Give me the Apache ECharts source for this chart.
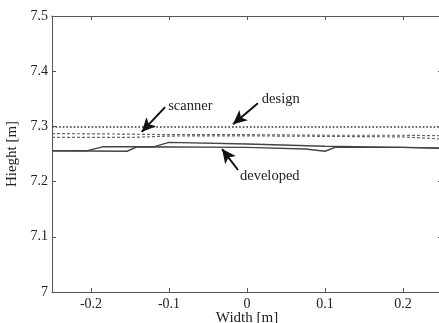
<!DOCTYPE html>
<html><head><meta charset="utf-8">
<script src="https://cdn.jsdelivr.net/npm/echarts@6/dist/echarts.min.js"></script>
<style>html,body{margin:0;padding:0;background:#fff}#c{width:439px;height:323px}</style>
</head><body><div id="c"></div>
<script>
var xTicks = [-0.2, -0.1, 0, 0.1, 0.2];
var yTicks = [7, 7.1, 7.2, 7.3, 7.4, 7.5];
var design = [[-0.25, 7.299], [0.25, 7.299]];
var scanner1 = [[-0.25, 7.287], [-0.15, 7.286], [-0.1, 7.285], [0, 7.285], [0.1, 7.284], [0.2, 7.284], [0.25, 7.283]];
var scanner2 = [[-0.25, 7.280], [-0.15, 7.280], [-0.1, 7.2825], [-0.02, 7.283], [0.1, 7.282], [0.2, 7.281], [0.25, 7.277]];
var developedA = [[-0.25, 7.256], [-0.205, 7.256], [-0.185, 7.263], [-0.12, 7.263], [-0.1, 7.271], [0, 7.268], [0.1, 7.264], [0.2, 7.262], [0.25, 7.260]];
var developedB = [[-0.25, 7.256], [-0.154, 7.255], [-0.141, 7.263], [0, 7.262], [0.075, 7.259], [0.1, 7.255], [0.113, 7.262], [0.2, 7.262], [0.25, 7.261]];
var notes = [
  {text: 'scanner', from: [-0.105, 7.335], to: [-0.135, 7.290], label: [-0.101, 7.336]},
  {text: 'design', from: [0.014, 7.342], to: [-0.018, 7.304], label: [0.019, 7.349]},
  {text: 'developed', from: [-0.0115, 7.221], to: [-0.032, 7.259], label: [-0.009, 7.209]}
];

var chart = echarts.init(document.getElementById('c'));
var font = 'Liberation Serif';
var axisCol = '#555';
var txtCol = '#222';
function lineSeries(data, type, w, col) {
  return {type: 'line', data: data, symbol: 'none', silent: true, animation: false,
    lineStyle: {color: col, width: w, type: type}};
}
var series = [
  lineSeries(design, [1.6, 2], 1.6, '#333'),
  lineSeries(scanner1, [3, 2], 1.2, '#666'),
  lineSeries(scanner2, [3, 2], 1.2, '#666'),
  lineSeries(developedA, 'solid', 1.4, '#444'),
  lineSeries(developedB, 'solid', 1.4, '#444')
];
series.push({
  type: 'line', data: [], symbol: 'none', animation: false,
  markLine: {
    silent: true, animation: false,
    symbol: ['none', 'arrow'], symbolSize: [10, 14],
    label: {show: false},
    lineStyle: {color: '#111', width: 2, type: 'solid'},
    data: notes.map(function (n) { return [{coord: n.from}, {coord: n.to}]; })
  }
});
var axCommon = {
  axisLine: {show: true, onZero: false, lineStyle: {color: axisCol, width: 1}},
  axisTick: {show: true, inside: true, length: 4, lineStyle: {color: axisCol}},
  splitLine: {show: false}
};
chart.setOption({
  backgroundColor: '#fff',
  animation: false,
  grid: {left: 52, top: 16, right: -3, bottom: 31, containLabel: false, outerBoundsMode: 'none'},
  xAxis: [
    Object.assign({type: 'value', min: -0.25, max: 0.25, position: 'bottom',
      name: 'Width [m]', nameLocation: 'middle', nameGap: 19, nameMoveOverlap: false,
      nameTextStyle: {fontFamily: font, fontSize: 15, color: txtCol},
      axisLabel: {customValues: xTicks, fontFamily: font, fontSize: 14, color: txtCol, margin: 5,
        formatter: function (v) { return String(v); }}},
      axCommon, {axisTick: {show: true, inside: true, length: 4, customValues: xTicks, lineStyle: {color: axisCol}}}),
    Object.assign({type: 'value', min: -0.25, max: 0.25, position: 'top',
      axisLabel: {show: false}}, axCommon,
      {axisTick: {show: true, inside: true, length: 4, customValues: xTicks, lineStyle: {color: axisCol}}})
  ],
  yAxis: [
    Object.assign({type: 'value', min: 7, max: 7.5, interval: 0.1, position: 'left',
      name: 'Hieght [m]', nameLocation: 'middle', nameGap: 32, nameMoveOverlap: false,
      nameTextStyle: {fontFamily: font, fontSize: 15, color: txtCol},
      axisLabel: {fontFamily: font, fontSize: 14, color: txtCol, margin: 4,
        formatter: function (v) { return String(Math.round(v * 10) / 10); }}}, axCommon),
    Object.assign({type: 'value', min: 7, max: 7.5, interval: 0.1, position: 'right',
      axisLabel: {show: false}}, axCommon)
  ],
  series: series
});
var g = notes.map(function (n) {
  var p = chart.convertToPixel({gridIndex: 0}, n.label);
  return {type: 'text', x: p[0], y: p[1], silent: true,
    style: {text: n.text, fontFamily: font, fontSize: 14.5, fill: txtCol, verticalAlign: 'middle', align: 'left'}};
});
chart.setOption({graphic: g});
</script></body></html>
